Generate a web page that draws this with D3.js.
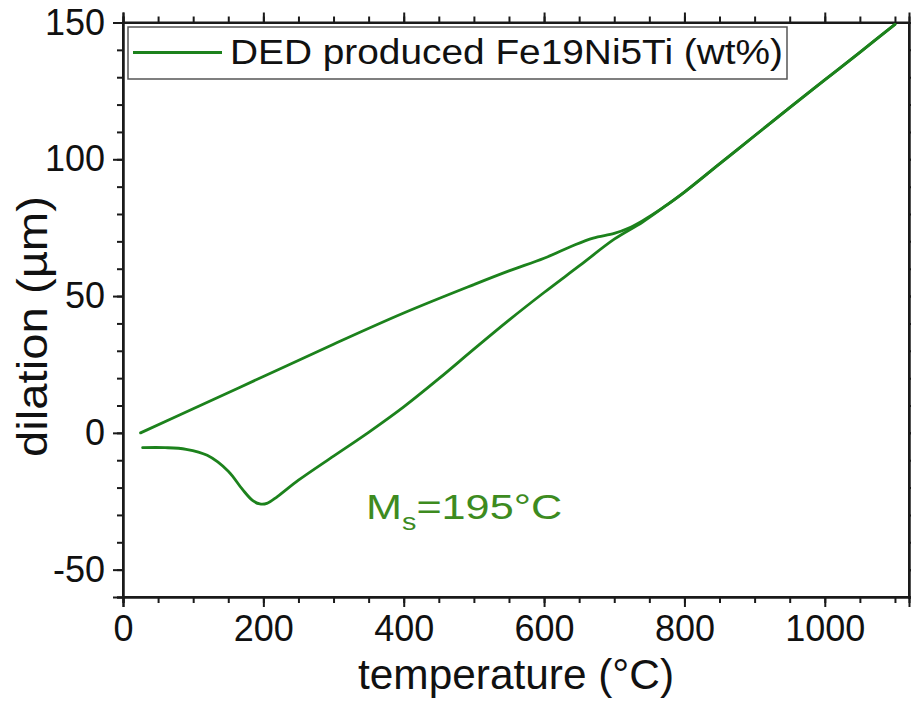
<!DOCTYPE html>
<html>
<head>
<meta charset="utf-8">
<script src="https://cdn.jsdelivr.net/npm/d3@7/dist/d3.min.js"></script>
<style>
  html, body { margin: 0; padding: 0; background: #ffffff; }
  svg { display: block; font-family: "Liberation Sans", Arial, Helvetica, sans-serif; }
  .axis path, .axis line { stroke: #1a1a1a; stroke-width: 2; }
  .axis text { fill: #111; font-size: 36px; font-family: "Liberation Sans", Arial, sans-serif; }
</style>
</head>
<body>
<svg id="chart" width="911" height="704"></svg>
<script>
// Dilatometry of DED produced Fe19Ni5Ti: heating branch (temperature °C, dilation µm)
const heatTemp = [25, 100, 200, 300, 400, 500, 550, 600, 640, 670, 700, 720, 740, 770, 800, 850, 900, 950, 1000, 1050, 1100];
const heatDil  = [0, 8.8, 20.6, 32.4, 43.8, 54.2, 59.2, 63.8, 68.3, 71.2, 72.9, 74.8, 77.5, 82.4, 88.0, 98.3, 108.6, 118.9, 129.0, 139.1, 149.3];

// Cooling branch, from 1100 °C down to room temperature
const coolTemp = [1100, 1050, 1000, 950, 900, 850, 800, 770, 740, 700, 650, 600, 550, 500, 450, 400, 350, 300, 250, 220, 205, 195, 185, 170, 150, 120, 90, 60, 28];
const coolDil  = [149.3, 139.1, 129.0, 118.9, 108.6, 98.3, 88.0, 82.4, 77.0, 70.8, 61.0, 51.3, 41.2, 30.6, 19.8, 9.5, 0.2, -8.5, -17.3, -23.3, -25.8, -26.0, -24.8, -20.6, -14.0, -8.2, -6.0, -5.4, -5.4];

// Axis ticks
const xMajorTicks = [0, 200, 400, 600, 800, 1000];
const xMinorTicks = d3.range(0, 1101, 50);
const yMajorTicks = [-50, 0, 50, 100, 150];
const yMinorTicks = d3.range(-60, 151, 10);

const legendLabel = "DED produced Fe19Ni5Ti (wt%)";
const xTitle = "temperature (°C)";
const yTitle = "dilation (µm)";

const lineColor = "#1c821c";
const noteColor = "#3d8b1f";

const svg = d3.select("#chart");
const plotL = 123, plotR = 909, plotT = 22.5, plotB = 597;

const x = d3.scaleLinear().domain([0, 1120]).range([plotL, plotR]);
const y = d3.scaleLinear().domain([-60, 150]).range([plotB, plotT]);
const plainNum = d => String(d);

// Minor ticks (no labels) on all four sides
function minor(axisFn, scale, vals, size) {
  return axisFn(scale).tickValues(vals).tickSize(size).tickFormat("");
}
svg.append("g").attr("class", "axis").attr("transform", `translate(0,${plotB})`)
  .call(minor(d3.axisBottom, x, xMinorTicks, 6));
svg.append("g").attr("class", "axis").attr("transform", `translate(0,${plotT})`)
  .call(minor(d3.axisTop, x, xMinorTicks, 6));
svg.append("g").attr("class", "axis").attr("transform", `translate(${plotL},0)`)
  .call(minor(d3.axisLeft, y, yMinorTicks, 6));
svg.append("g").attr("class", "axis").attr("transform", `translate(${plotR},0)`)
  .call(minor(d3.axisRight, y, yMinorTicks, 6));

// Major ticks with labels
svg.append("g").attr("class", "axis").attr("transform", `translate(0,${plotB})`)
  .call(d3.axisBottom(x).tickValues(xMajorTicks).tickSize(10).tickPadding(8).tickFormat(plainNum));
svg.append("g").attr("class", "axis").attr("transform", `translate(0,${plotT})`)
  .call(d3.axisTop(x).tickValues(xMajorTicks).tickSize(10).tickFormat(""));
svg.append("g").attr("class", "axis").attr("transform", `translate(${plotL},0)`)
  .call(d3.axisLeft(y).tickValues(yMajorTicks).tickSize(10).tickPadding(8).tickFormat(plainNum));
svg.append("g").attr("class", "axis").attr("transform", `translate(${plotR},0)`)
  .call(d3.axisRight(y).tickValues(yMajorTicks).tickSize(10).tickFormat(""));

// Frame
svg.append("rect").attr("x", plotL).attr("y", plotT).attr("width", plotR - plotL).attr("height", plotB - plotT)
  .attr("fill", "none").attr("stroke", "#1a1a1a").attr("stroke-width", 2);

// Curves
const line = d3.line().x(d => x(d[0])).y(d => y(d[1])).curve(d3.curveCatmullRom.alpha(0.5));
const heating = heatTemp.map((t, i) => [t, heatDil[i]]);
const cooling = coolTemp.map((t, i) => [t, coolDil[i]]);
[heating, cooling].forEach(pts => {
  svg.append("path").datum(pts).attr("d", line)
    .attr("fill", "none").attr("stroke", lineColor).attr("stroke-width", 2.8)
    .attr("stroke-linejoin", "round").attr("stroke-linecap", "round");
});

// Legend
const lg = svg.append("g");
lg.append("rect").attr("x", 128).attr("y", 27).attr("width", 659).attr("height", 52)
  .attr("fill", "#fff").attr("stroke", "#555").attr("stroke-width", 1.5);
lg.append("line").attr("x1", 133).attr("x2", 222).attr("y1", 52.5).attr("y2", 52.5)
  .attr("stroke", lineColor).attr("stroke-width", 3);
lg.append("text").attr("x", 230).attr("y", 64).attr("font-size", 35).attr("fill", "#111")
  .attr("textLength", 553).attr("lengthAdjust", "spacingAndGlyphs").text(legendLabel);

// Martensite start annotation
const note = svg.append("text").attr("transform", "translate(366,519) scale(1.2,1)")
  .attr("font-size", 36).attr("fill", noteColor);
note.append("tspan").text("M");
note.append("tspan").attr("font-size", 24).attr("dy", 11).text("s");
note.append("tspan").attr("dy", -11).text("=195°C");

// Axis titles
svg.append("text").attr("x", 358).attr("y", 689)
  .attr("font-size", 42).attr("fill", "#111")
  .attr("textLength", 316).attr("lengthAdjust", "spacingAndGlyphs").text(xTitle);
svg.append("text").attr("transform", "translate(47,457) rotate(-90)")
  .attr("font-size", 42).attr("fill", "#111")
  .attr("textLength", 261).attr("lengthAdjust", "spacingAndGlyphs").text(yTitle);
</script>
</body>
</html>
